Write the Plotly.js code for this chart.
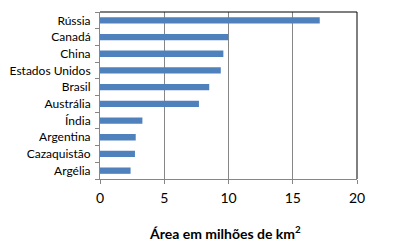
<!DOCTYPE html>
<html><head><meta charset="utf-8">
<script src="https://cdn.plot.ly/plotly-3.0.1.min.js"></script>
<style>html,body{margin:0;padding:0;background:#fff}</style>
</head><body>
<div id="chart" style="width:400px;height:243px"></div>
<script>
const countries = ["Rússia","Canadá","China","Estados Unidos","Brasil","Austrália","Índia","Argentina","Cazaquistão","Argélia"];
const areas = [17.1, 9.98, 9.6, 9.4, 8.5, 7.7, 3.3, 2.78, 2.72, 2.38];
const xTicks = [0, 5, 10, 15, 20];

const font = "Lato, 'Open Sans', sans-serif";
Plotly.newPlot("chart", [{
  type: "bar",
  orientation: "h",
  y: countries,
  x: areas,
  marker: {color: "#4F81BD"},
  hoverinfo: "none"
}], {
  width: 400, height: 243,
  margin: {l: 100, r: 43, t: 12, b: 64},
  paper_bgcolor: "#fff", plot_bgcolor: "#fff",
  bargap: 0.62,
  showlegend: false,
  xaxis: {
    range: [0, 20], tickvals: xTicks, ticktext: xTicks.map(String),
    showgrid: true, gridcolor: "#868686", gridwidth: 1,
    showline: true, linecolor: "#868686", linewidth: 1,
    ticks: "outside", ticklen: 4, tickcolor: "#868686",
    zeroline: false, ticklabelstandoff: 2,
    tickfont: {family: font, size: 14, color: "#000"}
  },
  yaxis: {
    categoryorder: "array", categoryarray: countries.slice().reverse(),
    autorange: false, range: [-0.5, 9.5],
    showline: true, linecolor: "#868686", linewidth: 1,
    ticks: "outside", ticklen: 4, tickcolor: "#868686", tickson: "boundaries",
    showgrid: false, zeroline: false, ticklabelstandoff: 6,
    tickfont: {family: font, size: 12, color: "#000"}
  },
  shapes: [
    {type: "line", xref: "paper", yref: "paper", x0: 0, x1: 1, y0: 1, y1: 1, line: {color: "#000", width: 1}},
    {type: "line", xref: "paper", yref: "paper", x0: 1, x1: 1, y0: 0, y1: 1, line: {color: "#000", width: 1}}
  ],
  annotations: [{
    xref: "paper", yref: "paper", x: 0.486, y: -0.32, xanchor: "center", yanchor: "middle",
    showarrow: false, text: "<b>Área em milhões de km<sup>2</sup></b>",
    font: {family: font, size: 14, color: "#000"}
  }]
}, {staticPlot: true});
</script>
</body></html>
